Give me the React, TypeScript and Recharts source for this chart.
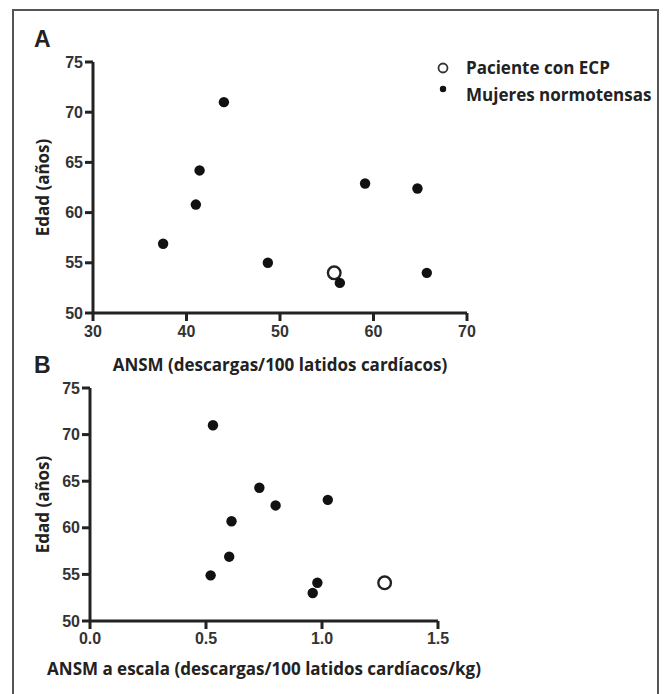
import React from "react";
import { ScatterChart, Scatter, XAxis, YAxis, Label, Legend } from "recharts";

// Panel A: ANSM (descargas/100 latidos cardíacos) vs Edad
const ansmMujeresA = [37.5, 41.0, 41.4, 44.0, 48.7, 56.4, 59.1, 64.7, 65.7];
const edadMujeresA = [56.9, 60.8, 64.2, 71.0, 55.0, 53.0, 62.9, 62.4, 54.0];
const ansmPacienteA = [55.8];
const edadPacienteA = [54.0];

// Panel B: ANSM a escala (descargas/100 latidos cardíacos/kg) vs Edad
const ansmMujeresB = [0.53, 0.61, 0.6, 0.52, 0.73, 0.8, 1.025, 0.98, 0.96];
const edadMujeresB = [71.0, 60.7, 56.9, 54.9, 64.3, 62.4, 63.0, 54.1, 53.0];
const ansmPacienteB = [1.27];
const edadPacienteB = [54.1];

const xTicksA = [30, 40, 50, 60, 70];
const xTicksB = [0, 0.5, 1.0, 1.5];
const yTicks = [50, 55, 60, 65, 70, 75];

const seriesNames = ["Paciente con ECP", "Mujeres normotensas"];

const zip = (xs: number[], ys: number[]) => xs.map((x, i) => ({ x, y: ys[i] }));

const dataMujeresA = zip(ansmMujeresA, edadMujeresA);
const dataPacienteA = zip(ansmPacienteA, edadPacienteA);
const dataMujeresB = zip(ansmMujeresB, edadMujeresB);
const dataPacienteB = zip(ansmPacienteB, edadPacienteB);

const AXIS = "#222";
const TICK_STYLE = { fontFamily: "'Liberation Sans', Arial, sans-serif", fontWeight: 700, fontSize: 16, fill: "#333" };
const TITLE_STYLE = { fontFamily: "'Open Sans', sans-serif", fontWeight: 700, fontSize: 17, fill: "#222" };

const FilledDot = (props: any) => <circle cx={props.cx} cy={props.cy} r={5.2} fill="#111" />;
const OpenDot = (props: any) => (
  <circle cx={props.cx} cy={props.cy} r={6.3} fill="none" stroke="#222" strokeWidth={2.4} />
);

const legendText = {
  position: "absolute" as const,
  left: 36,
  lineHeight: "20px",
  fontFamily: "'Open Sans', sans-serif",
  fontWeight: 700,
  fontSize: 17,
  color: "#222",
  whiteSpace: "nowrap" as const,
};

const LegendContent = () => (
  <div style={{ position: "relative", width: 230, height: 55 }}>
    <svg width={30} height={50} style={{ position: "absolute", left: 0, top: 0 }}>
      <circle cx={13} cy={13} r={4.5} fill="none" stroke="#333" strokeWidth={1.8} />
      <circle cx={13} cy={34} r={3.2} fill="#111" />
    </svg>
    <div style={{ ...legendText, top: 3 }}>{seriesNames[0]}</div>
    <div style={{ ...legendText, top: 30 }}>{seriesNames[1]}</div>
  </div>
);

const PanelLetter = ({ letter, top }: { letter: string; top: number }) => (
  <div
    style={{
      position: "absolute",
      left: 34,
      top,
      fontFamily: "'Liberation Sans', Arial, sans-serif",
      fontWeight: 700,
      fontSize: 23,
      lineHeight: "23px",
      color: "#222",
    }}
  >
    {letter}
  </div>
);

export default function App() {
  return (
    <div style={{ position: "absolute", left: 0, top: 0, width: 664, height: 694, background: "#fff", overflow: "hidden" }}>
      <div
        style={{
          position: "absolute",
          left: 12,
          top: 9,
          width: 647,
          height: 720,
          border: "2px solid #555",
          boxSizing: "border-box",
        }}
      />
      <PanelLetter letter="A" top={28} />
      <PanelLetter letter="B" top={354} />

      <div style={{ position: "absolute", left: 0, top: 0 }}>
        <ScatterChart width={664} height={380} margin={{ top: 62, right: 197, left: 33, bottom: 9 }}>
          <XAxis
            type="number"
            dataKey="x"
            domain={[30, 70]}
            ticks={xTicksA}
            interval={0}
            height={58}
            tickSize={8}
            tickMargin={5}
            axisLine={{ stroke: AXIS, strokeWidth: 3 }}
            tickLine={{ stroke: AXIS, strokeWidth: 3 }}
            tick={TICK_STYLE}
          >
            <Label value="ANSM (descargas/100 latidos cardíacos)" position="insideBottom" offset={0} style={TITLE_STYLE} />
          </XAxis>
          <YAxis
            type="number"
            dataKey="y"
            domain={[50, 75]}
            ticks={yTicks}
            interval={0}
            width={60}
            tickSize={8}
            tickMargin={2}
            axisLine={{ stroke: AXIS, strokeWidth: 3 }}
            tickLine={{ stroke: AXIS, strokeWidth: 3 }}
            tick={TICK_STYLE}
          >
            <Label
              value="Edad (años)"
              position="insideLeft"
              angle={-90}
              offset={10}
              style={{ ...TITLE_STYLE, textAnchor: "middle" }}
            />
          </YAxis>
          <Legend
            layout="vertical"
            align="center"
            verticalAlign="middle"
            content={<LegendContent />}
            wrapperStyle={{ position: "absolute", left: 430, top: 55, width: 230, height: 55 }}
          />
          <Scatter name={seriesNames[0]} data={dataPacienteA} shape={OpenDot} isAnimationActive={false} />
          <Scatter name={seriesNames[1]} data={dataMujeresA} shape={FilledDot} isAnimationActive={false} />
        </ScatterChart>
      </div>

      <div style={{ position: "absolute", left: 0, top: 340 }}>
        <ScatterChart width={664} height={354} margin={{ top: 48, right: 226, left: 30, bottom: 19 }}>
          <XAxis
            type="number"
            dataKey="x"
            domain={[0, 1.5]}
            ticks={xTicksB}
            interval={0}
            height={54}
            tickSize={8}
            tickMargin={4}
            tickFormatter={(v: number) => v.toFixed(1)}
            axisLine={{ stroke: AXIS, strokeWidth: 3 }}
            tickLine={{ stroke: AXIS, strokeWidth: 3 }}
            tick={TICK_STYLE}
          >
            <Label
              value="ANSM a escala (descargas/100 latidos cardíacos/kg)"
              position="insideBottom"
              offset={0}
              style={TITLE_STYLE}
            />
          </XAxis>
          <YAxis
            type="number"
            dataKey="y"
            domain={[50, 75]}
            ticks={yTicks}
            interval={0}
            width={60}
            tickSize={8}
            tickMargin={2}
            axisLine={{ stroke: AXIS, strokeWidth: 3 }}
            tickLine={{ stroke: AXIS, strokeWidth: 3 }}
            tick={TICK_STYLE}
          >
            <Label
              value="Edad (años)"
              position="insideLeft"
              angle={-90}
              offset={13}
              style={{ ...TITLE_STYLE, textAnchor: "middle" }}
            />
          </YAxis>
          <Scatter name={seriesNames[0]} data={dataPacienteB} shape={OpenDot} isAnimationActive={false} />
          <Scatter name={seriesNames[1]} data={dataMujeresB} shape={FilledDot} isAnimationActive={false} />
        </ScatterChart>
      </div>
    </div>
  );
}
